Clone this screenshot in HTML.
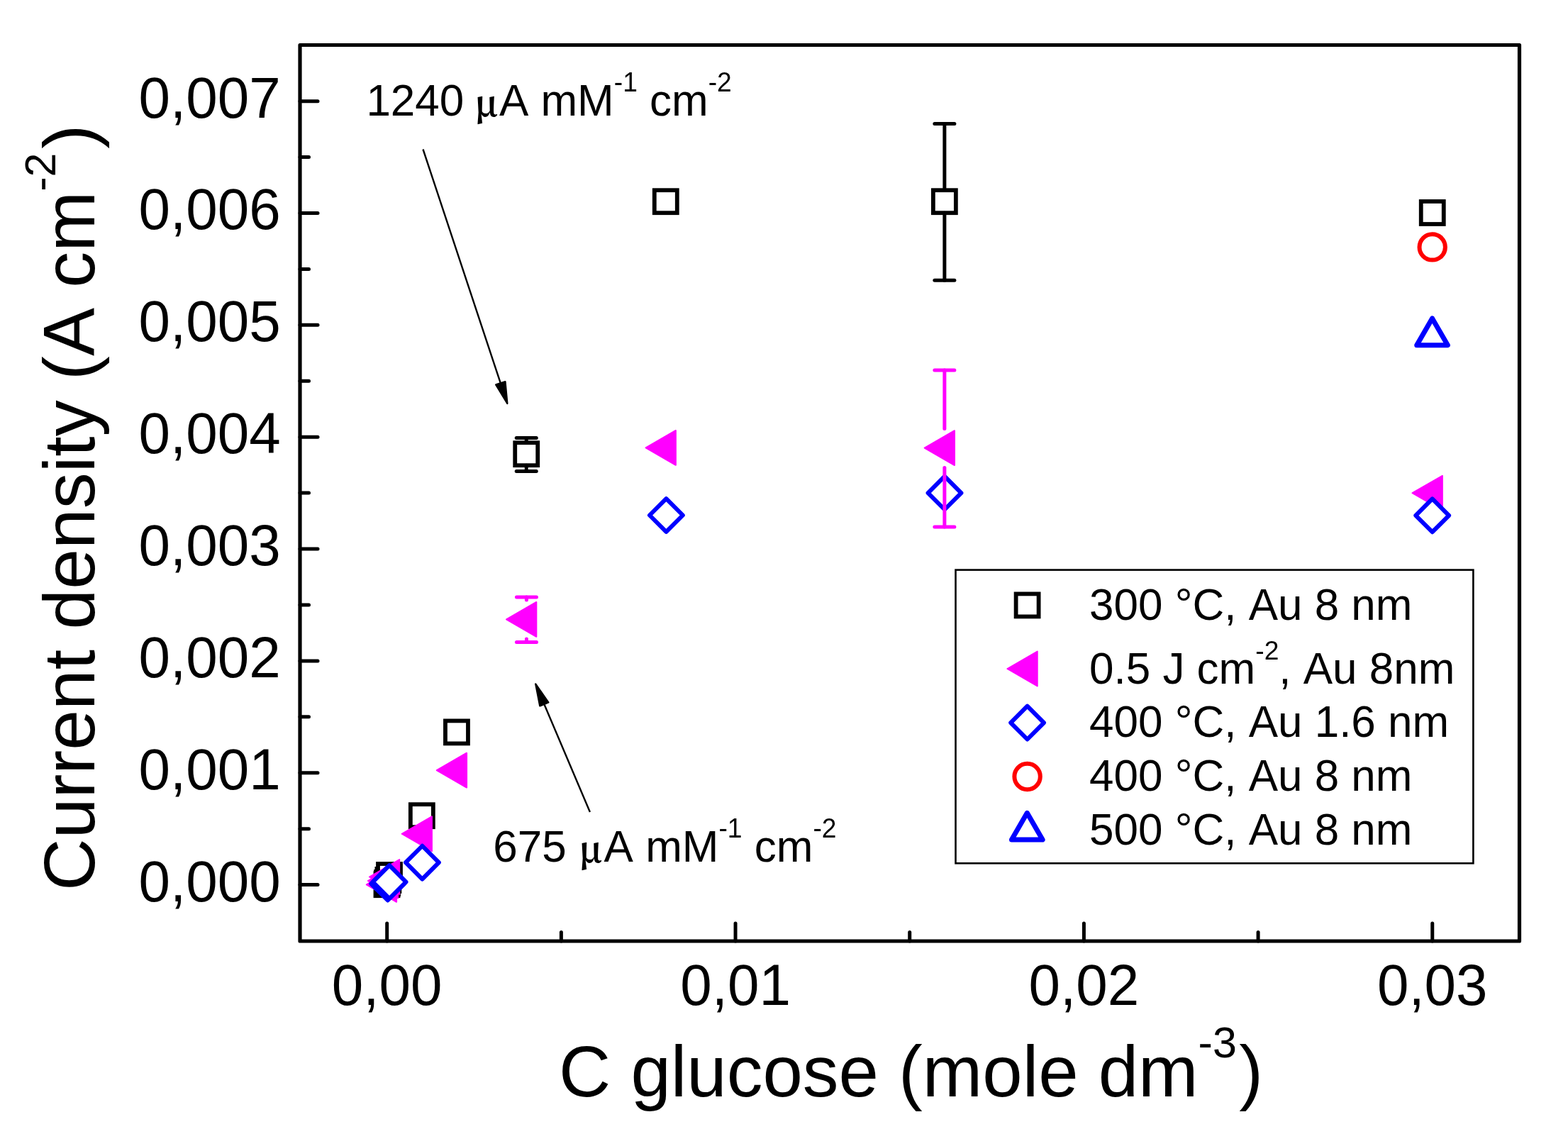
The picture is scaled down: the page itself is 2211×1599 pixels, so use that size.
<!DOCTYPE html>
<html><head><meta charset="utf-8"><title>Current density vs glucose</title>
<style>html,body{margin:0;padding:0;background:#fff;}svg{display:block;} text{font-kerning:none;font-feature-settings:"kern" 0;}
.s{font-family:"Liberation Sans",Arial,sans-serif;}
.mu{font-family:"Noto Serif CJK SC","Liberation Serif",serif;font-weight:bold;}</style>
</head><body>
<svg width="2211" height="1599" viewBox="0 0 2211 1599">
<rect width="2211" height="1599" fill="#fff"/>
<g stroke="#000" stroke-width="5" fill="none" stroke-linecap="round">
<line x1="423" y1="1247.60" x2="448" y2="1247.60"/>
<line x1="423" y1="1168.67" x2="435.5" y2="1168.67"/>
<line x1="423" y1="1089.75" x2="448" y2="1089.75"/>
<line x1="423" y1="1010.82" x2="435.5" y2="1010.82"/>
<line x1="423" y1="931.90" x2="448" y2="931.90"/>
<line x1="423" y1="852.97" x2="435.5" y2="852.97"/>
<line x1="423" y1="774.05" x2="448" y2="774.05"/>
<line x1="423" y1="695.12" x2="435.5" y2="695.12"/>
<line x1="423" y1="616.20" x2="448" y2="616.20"/>
<line x1="423" y1="537.27" x2="435.5" y2="537.27"/>
<line x1="423" y1="458.35" x2="448" y2="458.35"/>
<line x1="423" y1="379.42" x2="435.5" y2="379.42"/>
<line x1="423" y1="300.50" x2="448" y2="300.50"/>
<line x1="423" y1="221.57" x2="435.5" y2="221.57"/>
<line x1="423" y1="142.65" x2="448" y2="142.65"/>
<line x1="545.70" y1="1327" x2="545.70" y2="1302"/>
<line x1="791.38" y1="1327" x2="791.38" y2="1314.5"/>
<line x1="1037.05" y1="1327" x2="1037.05" y2="1302"/>
<line x1="1282.72" y1="1327" x2="1282.72" y2="1314.5"/>
<line x1="1528.40" y1="1327" x2="1528.40" y2="1302"/>
<line x1="1774.08" y1="1327" x2="1774.08" y2="1314.5"/>
<line x1="2019.75" y1="1327" x2="2019.75" y2="1302"/>
</g>
<rect x="423" y="63.5" width="1719.5" height="1263.5" fill="none" stroke="#000" stroke-width="5.2" stroke-linejoin="round"/>
<g class="s" font-size="80" fill="#000" text-anchor="end">
<text transform="translate(395.7,1270.50) scale(1,1.022)">0,000</text>
<text transform="translate(395.7,1112.65) scale(1,1.022)">0,001</text>
<text transform="translate(395.7,954.80) scale(1,1.022)">0,002</text>
<text transform="translate(395.7,796.95) scale(1,1.022)">0,003</text>
<text transform="translate(395.7,639.10) scale(1,1.022)">0,004</text>
<text transform="translate(395.7,481.25) scale(1,1.022)">0,005</text>
<text transform="translate(395.7,323.40) scale(1,1.022)">0,006</text>
<text transform="translate(395.7,165.55) scale(1,1.022)">0,007</text>
</g>
<g class="s" font-size="80" fill="#000" text-anchor="middle">
<text transform="translate(545.70,1417.0) scale(1,1.022)">0,00</text>
<text transform="translate(1037.05,1417.0) scale(1,1.022)">0,01</text>
<text transform="translate(1528.40,1417.0) scale(1,1.022)">0,02</text>
<text transform="translate(2019.75,1417.0) scale(1,1.022)">0,03</text>
</g>
<text class="s" font-size="101.4" x="788" y="1546">C glucose (mole dm<tspan font-size="61" dy="-55.2">-3</tspan><tspan dx="3.4" dy="55.2">)</tspan></text>
<text class="s" font-size="102" transform="translate(133.1,1256) rotate(-90)">Current density (A cm<tspan font-size="61" dy="-55.2">-2</tspan><tspan dx="5.7" dy="55.2">)</tspan></text>
<rect x="529.50" y="1231.20" width="32.00" height="32.00" fill="#fff" stroke="#000" stroke-width="5.8"/>
<rect x="530.10" y="1229.00" width="32.00" height="32.00" fill="#fff" stroke="#000" stroke-width="5.8"/>
<rect x="531.40" y="1225.00" width="32.00" height="32.00" fill="#fff" stroke="#000" stroke-width="5.8"/>
<rect x="533.00" y="1218.00" width="32.00" height="32.00" fill="#fff" stroke="#000" stroke-width="5.8"/>
<rect x="578.84" y="1134.20" width="32.00" height="32.00" fill="#fff" stroke="#000" stroke-width="5.8"/>
<rect x="627.97" y="1016.40" width="32.00" height="32.00" fill="#fff" stroke="#000" stroke-width="5.8"/>
<rect x="726.24" y="624.20" width="32.00" height="32.00" fill="#fff" stroke="#000" stroke-width="5.8"/>
<rect x="922.78" y="268.20" width="32.00" height="32.00" fill="#fff" stroke="#000" stroke-width="5.8"/>
<rect x="1315.86" y="268.20" width="32.00" height="32.00" fill="#fff" stroke="#000" stroke-width="5.8"/>
<rect x="2003.75" y="284.00" width="32.00" height="32.00" fill="#fff" stroke="#000" stroke-width="5.8"/>
<g stroke="#000" stroke-width="5" stroke-linecap="round" fill="none"><line x1="728.24" y1="617.50" x2="756.24" y2="617.50"/><line x1="728.24" y1="664.50" x2="756.24" y2="664.50"/><line x1="742.24" y1="617.50" x2="742.24" y2="624.20"/><line x1="742.24" y1="656.20" x2="742.24" y2="664.50"/></g>
<g stroke="#000" stroke-width="5" stroke-linecap="round" fill="none"><line x1="1317.86" y1="174.40" x2="1345.86" y2="174.40"/><line x1="1317.86" y1="395.20" x2="1345.86" y2="395.20"/><line x1="1331.86" y1="174.40" x2="1331.86" y2="268.20"/><line x1="1331.86" y1="300.20" x2="1331.86" y2="395.20"/></g>
<polygon points="516.80,1247.40 559.10,1222.98 559.10,1271.82" fill="#f0f" stroke="#f0f" stroke-width="2" stroke-linejoin="round"/>
<polygon points="518.80,1242.00 561.10,1217.58 561.10,1266.42" fill="#f0f" stroke="#f0f" stroke-width="2" stroke-linejoin="round"/>
<polygon points="520.90,1236.50 563.20,1212.08 563.20,1260.92" fill="#f0f" stroke="#f0f" stroke-width="2" stroke-linejoin="round"/>
<polygon points="566.63,1175.75 608.94,1151.33 608.94,1200.17" fill="#f0f" stroke="#f0f" stroke-width="2" stroke-linejoin="round"/>
<polygon points="615.77,1086.10 658.07,1061.68 658.07,1110.52" fill="#f0f" stroke="#f0f" stroke-width="2" stroke-linejoin="round"/>
<polygon points="714.04,873.35 756.34,848.93 756.34,897.77" fill="#f0f" stroke="#f0f" stroke-width="2" stroke-linejoin="round"/>
<polygon points="910.58,631.40 952.88,606.98 952.88,655.82" fill="#f0f" stroke="#f0f" stroke-width="2" stroke-linejoin="round"/>
<polygon points="1303.66,631.60 1345.96,607.18 1345.96,656.02" fill="#f0f" stroke="#f0f" stroke-width="2" stroke-linejoin="round"/>
<polygon points="1991.55,695.20 2033.85,670.78 2033.85,719.62" fill="#f0f" stroke="#f0f" stroke-width="2" stroke-linejoin="round"/>
<polygon points="546.70,1222.70 570.10,1246.10 546.70,1269.50 523.30,1246.10" fill="#fff" stroke="#00f" stroke-width="6" stroke-linejoin="round"/>
<polygon points="549.10,1220.20 572.50,1243.60 549.10,1267.00 525.70,1243.60" fill="#fff" stroke="#00f" stroke-width="6" stroke-linejoin="round"/>
<polygon points="595.45,1192.75 618.85,1216.15 595.45,1239.55 572.05,1216.15" fill="#fff" stroke="#00f" stroke-width="6" stroke-linejoin="round"/>
<polygon points="939.40,703.10 962.80,726.50 939.40,749.90 916.00,726.50" fill="#fff" stroke="#00f" stroke-width="6" stroke-linejoin="round"/>
<polygon points="1332.00,671.70 1355.40,695.10 1332.00,718.50 1308.60,695.10" fill="#fff" stroke="#00f" stroke-width="6" stroke-linejoin="round"/>
<polygon points="2019.70,703.40 2043.10,726.80 2019.70,750.20 1996.30,726.80" fill="#fff" stroke="#00f" stroke-width="6" stroke-linejoin="round"/>
<g stroke="#f0f" stroke-width="5" stroke-linecap="round" fill="none"><line x1="728.44" y1="841.90" x2="756.44" y2="841.90"/><line x1="728.44" y1="905.50" x2="756.44" y2="905.50"/><line x1="742.44" y1="841.90" x2="742.44" y2="846.10"/><line x1="742.44" y1="901.10" x2="742.44" y2="905.50"/></g>
<g stroke="#f0f" stroke-width="5" stroke-linecap="round" fill="none"><line x1="1317.86" y1="522.00" x2="1345.86" y2="522.00"/><line x1="1317.86" y1="743.10" x2="1345.86" y2="743.10"/><line x1="1331.86" y1="522.00" x2="1331.86" y2="604.40"/><line x1="1331.86" y1="659.40" x2="1331.86" y2="743.10"/></g>
<circle cx="2019.70" cy="348.40" r="18.2" fill="#fff" stroke="#f00" stroke-width="6"/>
<polygon points="2019.55,448.90 2041.37,486.70 1997.73,486.70" fill="none" stroke="#00f" stroke-width="7" stroke-linejoin="round"/>
<rect x="1347.5" y="803.6" width="729.9" height="413.7" fill="none" stroke="#000" stroke-width="2.6"/>
<rect x="1432.60" y="837.40" width="32.00" height="32.00" fill="#fff" stroke="#000" stroke-width="5.8"/>
<polygon points="1420.40,943.00 1462.70,918.58 1462.70,967.42" fill="#f0f" stroke="#f0f" stroke-width="2" stroke-linejoin="round"/>
<polygon points="1448.60,995.70 1472.00,1019.10 1448.60,1042.50 1425.20,1019.10" fill="#fff" stroke="#00f" stroke-width="6" stroke-linejoin="round"/>
<circle cx="1448.60" cy="1095.00" r="18.2" fill="#fff" stroke="#f00" stroke-width="6"/>
<polygon points="1448.30,1146.30 1470.12,1184.10 1426.48,1184.10" fill="none" stroke="#00f" stroke-width="7" stroke-linejoin="round"/>
<g class="s" font-size="62" fill="#000">
<text transform="translate(1536,873.5) scale(1,1.025)">300 °C, Au 8 nm</text>
<text transform="translate(1536,963.8) scale(1,1.012)">0.5 J cm<tspan font-size="37.2" dy="-33.60">-2</tspan><tspan dy="33.60">, Au 8nm</tspan></text>
<text transform="translate(1536,1039.3) scale(1,1.025)">400 °C, Au 1.6 nm</text>
<text transform="translate(1536,1115.2) scale(1,1.025)">400 °C, Au 8 nm</text>
<text transform="translate(1536,1191.2) scale(1,1.025)">500 °C, Au 8 nm</text>
<text transform="translate(516.4,163.2) scale(1,1.022)">1240 <tspan class="mu" font-size="50" x="152.80" dy="0.98">μ</tspan><tspan x="187.50" dy="-0.98">A mM</tspan><tspan font-size="37.2" dy="-33.27">-1</tspan><tspan dy="33.27"> cm</tspan><tspan font-size="37.2" dy="-33.27">-2</tspan></text>
<text transform="translate(695.3,1214.6) scale(1,1.022)">675 <tspan class="mu" font-size="50" x="121.00" dy="0.98">μ</tspan><tspan x="156.30" dy="-0.98">A mM</tspan><tspan font-size="37.2" dy="-33.27">-1</tspan><tspan dy="33.27"> cm</tspan><tspan font-size="37.2" dy="-33.27">-2</tspan></text>
</g>
<line x1="596.50" y1="210.50" x2="706.45" y2="542.19" stroke="#000" stroke-width="2.4"/><polygon points="715.32,568.96 699.22,542.48 712.42,538.11" fill="#000" stroke="#000" stroke-width="2.4" stroke-linejoin="round"/>
<line x1="831.90" y1="1145.00" x2="766.52" y2="991.01" stroke="#000" stroke-width="2.4"/><polygon points="755.27,964.50 773.29,990.32 761.32,995.40" fill="#000" stroke="#000" stroke-width="2.4" stroke-linejoin="round"/>
</svg>
</body></html>
